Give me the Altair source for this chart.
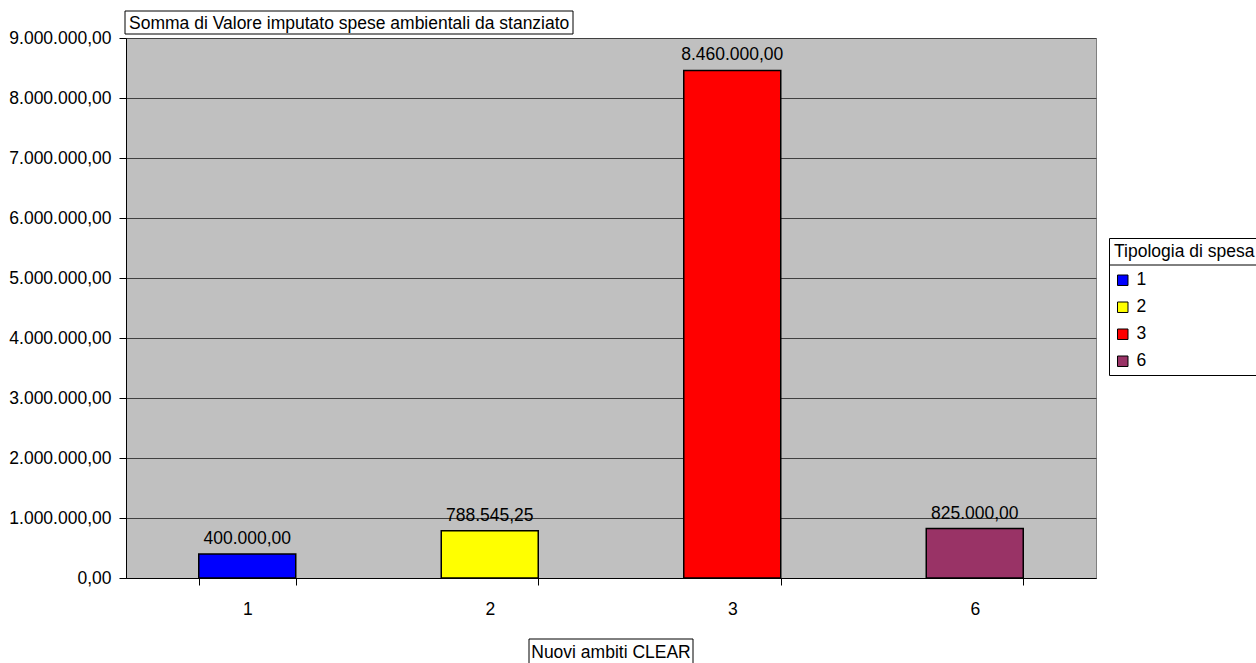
import altair as alt
import pandas as pd

ambiti = ["1", "2", "3", "6"]
tipologie = ["1", "2", "3", "6"]
valori = [400000.00, 788545.25, 8460000.00, 825000.00]
colori = ["#0000FF", "#FFFF00", "#FF0000", "#993366"]
y_ticks = [0, 1000000, 2000000, 3000000, 4000000, 5000000, 6000000, 7000000, 8000000, 9000000]
titolo = "Somma di Valore imputato spese ambientali da stanziato"
titolo_x = "Nuovi ambiti CLEAR"
titolo_legenda = "Tipologia di spesa"

FONT = "Liberation Sans"
FS = 17.5
W, H = 970, 540

df = pd.DataFrame({"ambito": ambiti, "tipologia": tipologie, "valore": valori})

base = alt.Chart(df)

x_enc = alt.X(
    "ambito:N",
    sort=ambiti,
    scale=alt.Scale(paddingInner=0.6, paddingOuter=0.3),
    axis=alt.Axis(
        title=None, labelAngle=0, tickBand="extent", tickSize=7, tickColor="black",
        domainColor="black", labelFont=FONT, labelFontSize=FS, labelColor="black",
        labelPadding=15, grid=False,
    ),
)
y_enc = alt.Y(
    "valore:Q",
    scale=alt.Scale(domain=[0, 9000000], nice=False),
    axis=alt.Axis(
        title=None, values=y_ticks, format=",.2f", tickSize=7, tickColor="black",
        domainColor="black", labelFont=FONT, labelFontSize=FS, labelColor="black",
        labelPadding=8, grid=True, gridColor="#404040", gridWidth=1,
    ),
)

bars = base.mark_bar(stroke="black", strokeWidth=1.5).encode(
    x=x_enc,
    y=y_enc,
    color=alt.Color(
        "tipologia:N",
        scale=alt.Scale(domain=tipologie, range=colori),
        legend=alt.Legend(
            title=titolo_legenda, orient="none", legendX=983, legendY=200,
            titleFont=FONT, titleFontSize=FS, titleFontWeight="normal", titleColor="black",
            titlePadding=11, labelFont=FONT, labelFontSize=FS, labelColor="black",
            symbolType="square", symbolSize=110, symbolStrokeColor="black",
            symbolStrokeWidth=1, symbolOpacity=1,
            strokeColor="black", padding=5, rowPadding=8,
            labelOffset=5,
        ),
    ),
)

labels = base.mark_text(
    baseline="alphabetic", dy=-10, font=FONT, fontSize=FS, color="black"
).encode(
    x=alt.X("ambito:N", sort=ambiti),
    y="valore:Q",
    text=alt.Text("valore:Q", format=",.2f"),
)

title_df = pd.DataFrame({"t": [titolo]})
title_box = alt.Chart(title_df).mark_rect(fill="white", stroke="black", strokeWidth=1).encode(
    x=alt.value(-1), x2=alt.value(447), y=alt.value(-27), y2=alt.value(-4)
)
title_text = alt.Chart(title_df).mark_text(
    align="left", baseline="alphabetic", font=FONT, fontSize=FS, color="black"
).encode(x=alt.value(3), y=alt.value(-9), text="t:N")

xt_df = pd.DataFrame({"t": [titolo_x]})
xt_box = alt.Chart(xt_df).mark_rect(fill="white", stroke="black", strokeWidth=1).encode(
    x=alt.value(403), x2=alt.value(567), y=alt.value(H + 61), y2=alt.value(H + 100)
)
xt_text = alt.Chart(xt_df).mark_text(
    align="center", baseline="alphabetic", font=FONT, fontSize=FS, color="black"
).encode(x=alt.value(W / 2), y=alt.value(H + 80), text="t:N")

leg_line = alt.Chart(xt_df).mark_rule(color="black", strokeWidth=1).encode(
    x=alt.value(983), x2=alt.value(1140), y=alt.value(227)
)

chart = alt.layer(bars, labels, title_box, title_text, xt_box, xt_text, leg_line).properties(
    width=W, height=H,
    autosize=alt.AutoSizeParams(type="none"),
    padding={"left": 126, "top": 38, "right": 160, "bottom": 85},
    background="white",
).configure(
    locale={"number": {"decimal": ",", "thousands": ".", "grouping": [3], "currency": ["", " €"]}}
).configure_view(
    fill="#C0C0C0", stroke="#808080", strokeWidth=1
)

chart.save("out.html", embed_options={"renderer": "svg", "actions": False})
